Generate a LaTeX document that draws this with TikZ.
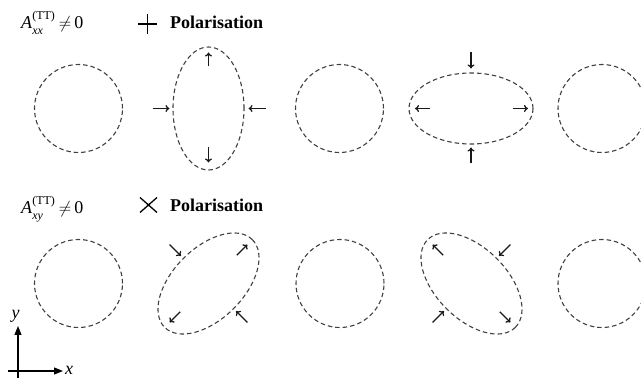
\documentclass[tikz,border=0pt]{standalone}
\usepackage{fontspec}
\setmainfont{Liberation Serif}
\usetikzlibrary{arrows.meta}
\newcommand{\Amp}[1]{\textit{A}\makebox[0pt][l]{\raisebox{0.5em}{\fontsize{12}{12}\selectfont(TT)}}\raisebox{-0.3em}{\fontsize{12}{12}\selectfont\textit{#1}}\hspace{13pt}\,$\neq$\,0}
\begin{document}
\begin{tikzpicture}[x=1pt,y=1pt,
  ring/.style={draw=black!75, line width=1.1pt, dash pattern=on 4.5pt off 3pt},
  sarrow/.style={draw=black!90, line width=1.3pt, -{To[length=4pt,width=7pt]}},
  axis/.style={draw=black, line width=1.1pt, -{Triangle[length=9pt,width=7pt]}},
  lbl/.style={anchor=base west, inner sep=0pt, font=\fontsize{18}{20}\selectfont},
  pol/.style={anchor=base west, inner sep=0pt, font=\fontsize{18}{20}\selectfont\bfseries},
  sym/.style={draw=black, line width=1.3pt}]
\useasboundingbox (0,0) rectangle (641,378);
% ---------- Row 1: plus polarisation ----------
\node[lbl] (a1) at (21,349) {\Amp{xx}};
\coordinate (p1) at (147.5,354);
\draw[sym] ([xshift=-9.5pt]p1) -- ([xshift=9.5pt]p1) ([yshift=-10pt]p1) -- ([yshift=10pt]p1);
\node[pol] (t1) at (170,349) {Polarisation};

\coordinate (c11) at (78.5,269.5);
\coordinate (c12) at (208.5,269.5);
\coordinate (c13) at (339.5,269.5);
\coordinate (c14) at (471,269.5);
\coordinate (c15) at (602,269.5);
\draw[ring] (c11) circle[radius=44];
\draw[ring] (c12) ellipse[x radius=35.5, y radius=61.5];
\draw[ring] (c13) circle[radius=44];
\draw[ring] (c14) ellipse[x radius=62, y radius=35.5];
\draw[ring] (c15) circle[radius=44];

% arrows on vertical ellipse
\draw[sarrow] ([xshift=-56pt]c12) -- ([xshift=-39pt]c12);
\draw[sarrow] ([xshift=57pt]c12) -- ([xshift=40pt]c12);
\draw[sarrow] ([yshift=42pt]c12) -- ([yshift=56pt]c12);
\draw[sarrow] ([yshift=-39pt]c12) -- ([yshift=-54pt]c12);
% arrows on horizontal ellipse
\draw[sarrow] ([yshift=56pt]c14) -- ([yshift=40pt]c14);
\draw[sarrow] ([yshift=-55pt]c14) -- ([yshift=-39pt]c14);
\draw[sarrow] ([xshift=-41pt]c14) -- ([xshift=-56pt]c14);
\draw[sarrow] ([xshift=42pt]c14) -- ([xshift=57pt]c14);

% ---------- Row 2: cross polarisation ----------
\node[lbl] (a2) at (21,164) {\Amp{xy}};
\coordinate (p2) at (148.5,173);
\draw[sym] ([shift={(-8.5pt,-7.5pt)}]p2) -- ([shift={(8.5pt,7.5pt)}]p2)
           ([shift={(-8.5pt,7.5pt)}]p2) -- ([shift={(8.5pt,-7.5pt)}]p2);
\node[pol] (t2) at (170,166) {Polarisation};

\coordinate (c21) at (78.5,94.5);
\coordinate (c22) at (208.5,94.5);
\coordinate (c23) at (340,94.5);
\coordinate (c24) at (471.5,94.5);
\coordinate (c25) at (602,94.5);
\draw[ring] (c21) circle[radius=44];
\draw[ring] (c22) ellipse[x radius=62, y radius=35.5, rotate=45];
\draw[ring] (c23) circle[radius=44];
\draw[ring] (c24) ellipse[x radius=62, y radius=35.5, rotate=-45];
\draw[ring] (c25) circle[radius=44];

% arrows on tilted ellipse (major along 45 deg)
\draw[sarrow] ([shift={(45:40)}]c22) -- ([shift={(45:55)}]c22);
\draw[sarrow] ([shift={(225:40)}]c22) -- ([shift={(225:55)}]c22);
\draw[sarrow] ([shift={(135:55)}]c22) -- ([shift={(135:39)}]c22);
\draw[sarrow] ([shift={(-45:55)}]c22) -- ([shift={(-45:39)}]c22);
% arrows on tilted ellipse (major along 135 deg)
\draw[sarrow] ([shift={(135:40)}]c24) -- ([shift={(135:55)}]c24);
\draw[sarrow] ([shift={(-45:40)}]c24) -- ([shift={(-45:55)}]c24);
\draw[sarrow] ([shift={(45:55)}]c24) -- ([shift={(45:39)}]c24);
\draw[sarrow] ([shift={(225:55)}]c24) -- ([shift={(225:39)}]c24);

% ---------- axes ----------
\coordinate (ob) at (18,0);
\coordinate (ol) at (8,7);
\coordinate (yt) at (18,52);
\coordinate (xt) at (63,7);
\draw[axis] (ob) -- (yt);
\draw[axis] (ol) -- (xt);
\node[inner sep=0pt, font=\fontsize{18}{20}\selectfont] (ylab) at (15.5,62) {\textit{y}};
\node[inner sep=0pt, anchor=west, font=\fontsize{18}{20}\selectfont] (xlab) at (65,8) {\textit{x}};
\end{tikzpicture}
\end{document}
